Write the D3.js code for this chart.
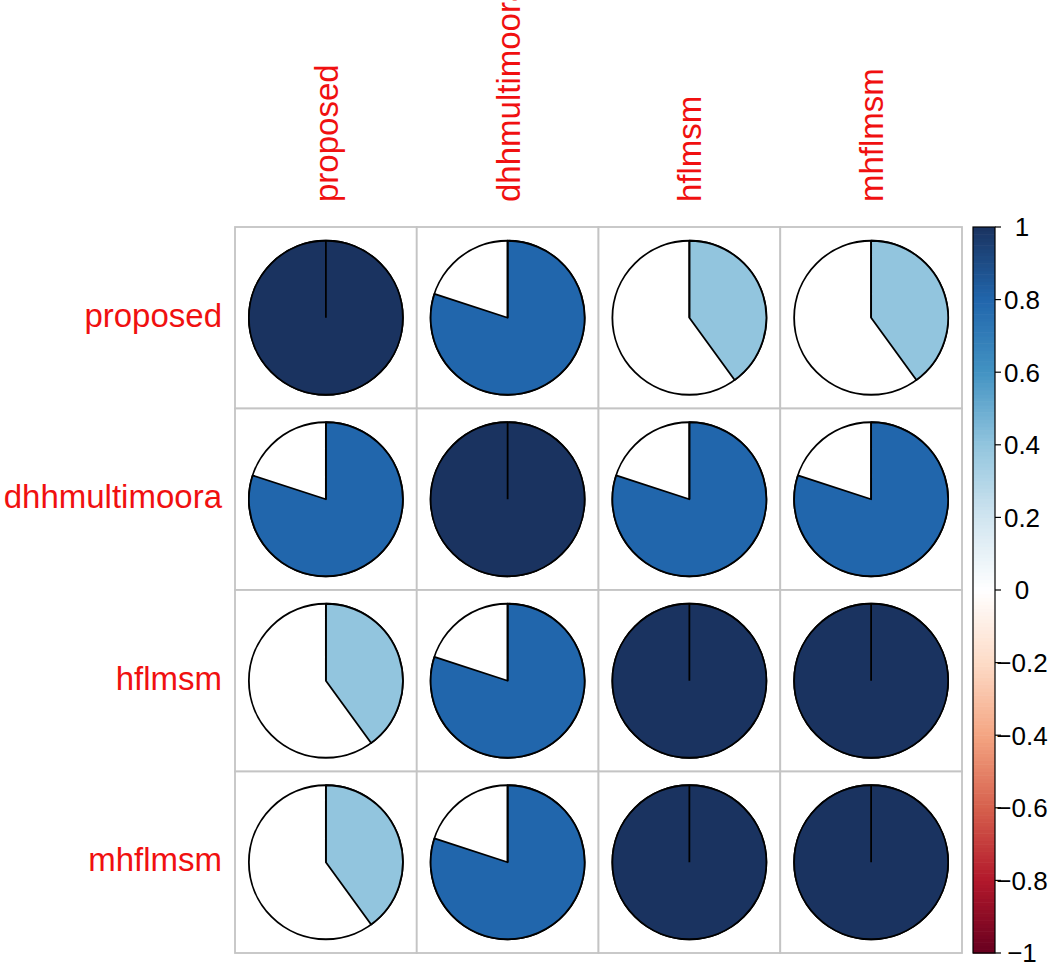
<!DOCTYPE html>
<html>
<head>
<meta charset="utf-8">
<script src="https://cdn.jsdelivr.net/npm/d3@7"></script>
<style>
  html, body { margin: 0; padding: 0; background: #fff; }
  text { font-family: "Liberation Sans", Arial, sans-serif; }
</style>
</head>
<body>
<div id="container"></div>
<script>
// variables (rows and columns share the same order)
const vars = ["proposed", "dhhmultimoora", "hflmsm", "mhflmsm"]

// correlation matrix, one row per variable
const rowProposed = [1.00, 0.80, 0.40, 0.40]
const rowDhh      = [0.80, 1.00, 0.80, 0.80]
const rowHflmsm   = [0.40, 0.80, 1.00, 1.00]
const rowMhflmsm  = [0.40, 0.80, 1.00, 1.00]
const corr = [rowProposed, rowDhh, rowHflmsm, rowMhflmsm]

// colour legend ticks
const legendTicks = [1, 0.8, 0.6, 0.4, 0.2, 0, -0.2, -0.4, -0.6, -0.8, -1]
const legendLabels = ["1", "0.8", "0.6", "0.4", "0.2", "0", "\u22120.2", "\u22120.4", "\u22120.6", "\u22120.8", "\u22121"]

// RdBu palette stops (corrplot style)
const paletteStops = ["#67001F", "#B2182B", "#D6604D", "#F4A582", "#FDDBC7", "#FFFFFF",
  "#D1E5F0", "#92C5DE", "#4393C3", "#2166AC", "#1A3360"]

const W = 1048, H = 965
const grid = { left: 235, top: 227, right: 962, bottom: 953 }

const svg = d3.select("#container").append("svg")
  .attr("width", W)
  .attr("height", H)

const x = d3.scaleBand().domain(vars).range([grid.left, grid.right])
const y = d3.scaleBand().domain(vars).range([grid.top, grid.bottom])

const interp = d3.piecewise(d3.interpolateRgb, paletteStops)
const color = v => interp((v + 1) / 2)

const cells = []
corr.forEach((row, i) => row.forEach((v, j) => cells.push({ r: vars[i], c: vars[j], v })))

// grid
const g = svg.append("g")
g.selectAll(".cell")
  .data(cells)
  .enter().append("rect")
  .attr("x", d => x(d.c))
  .attr("y", d => y(d.r))
  .attr("width", x.bandwidth())
  .attr("height", y.bandwidth())
  .attr("fill", "#fff")
  .attr("stroke", "#c4c4c4")
  .attr("stroke-width", 1.8)

const rad = 77
const arc = d3.arc().innerRadius(0).outerRadius(rad)

const pies = g.selectAll(".pie")
  .data(cells)
  .enter().append("g")
  .attr("class", "pie")
  .attr("transform", d => `translate(${x(d.c) + x.bandwidth() / 2}, ${y(d.r) + y.bandwidth() / 2})`)

pies.append("circle")
  .attr("r", rad)
  .attr("fill", "#fff")
  .attr("stroke", "#000")
  .attr("stroke-width", 1.8)

pies.append("path")
  .attr("d", d => arc({ startAngle: 0, endAngle: 2 * Math.PI * Math.abs(d.v) }))
  .attr("fill", d => color(d.v))
  .attr("stroke", "#000")
  .attr("stroke-width", 1.8)
  .attr("stroke-linejoin", "round")

pies.append("line")
  .attr("x1", 0).attr("y1", 0)
  .attr("x2", 0).attr("y2", -rad)
  .attr("stroke", "#000")
  .attr("stroke-width", 1.8)

// row labels
svg.selectAll(".rowlab")
  .data(vars)
  .enter().append("text")
  .attr("class", "rowlab")
  .attr("x", grid.left - 13)
  .attr("y", d => y(d) + y.bandwidth() / 2 + 9)
  .attr("text-anchor", "end")
  .attr("font-size", 33)
  .attr("fill", "#f01010")
  .text(d => d)

// column labels
svg.selectAll(".collab")
  .data(vars)
  .enter().append("text")
  .attr("class", "collab")
  .attr("transform", d => `translate(${x(d) + x.bandwidth() / 2 + 12}, ${grid.top - 25}) rotate(-90)`)
  .attr("text-anchor", "start")
  .attr("font-size", 33)
  .attr("fill", "#f01010")
  .text(d => d)

// colour legend
const bar = { left: 973, width: 22 }
const ly = d3.scaleLinear().domain([1, -1]).range([grid.top, grid.bottom])
const nSteps = 200
const steps = d3.range(nSteps).map(k => -1 + (k + 0.5) * 2 / nSteps)
const stepH = (grid.bottom - grid.top) / nSteps

const leg = svg.append("g")
leg.selectAll(".step")
  .data(steps)
  .enter().append("rect")
  .attr("x", bar.left)
  .attr("y", d => ly(d) - stepH / 2)
  .attr("width", bar.width)
  .attr("height", stepH + 0.6)
  .attr("fill", d => color(d))

leg.append("rect")
  .attr("x", bar.left)
  .attr("y", grid.top)
  .attr("width", bar.width)
  .attr("height", grid.bottom - grid.top)
  .attr("fill", "none")
  .attr("stroke", "#000")
  .attr("stroke-width", 1.2)

leg.selectAll(".tick")
  .data(legendTicks)
  .enter().append("line")
  .attr("x1", bar.left + bar.width)
  .attr("x2", bar.left + bar.width + 6)
  .attr("y1", d => ly(d))
  .attr("y2", d => ly(d))
  .attr("stroke", "#000")
  .attr("stroke-width", 1.2)

leg.selectAll(".ticklab")
  .data(legendTicks)
  .enter().append("text")
  .attr("x", 1022)
  .attr("y", d => ly(d))
  .attr("dy", "0.36em")
  .attr("text-anchor", "middle")
  .attr("font-size", 26)
  .attr("fill", "#000")
  .text((d, i) => legendLabels[i])
</script>
</body>
</html>
